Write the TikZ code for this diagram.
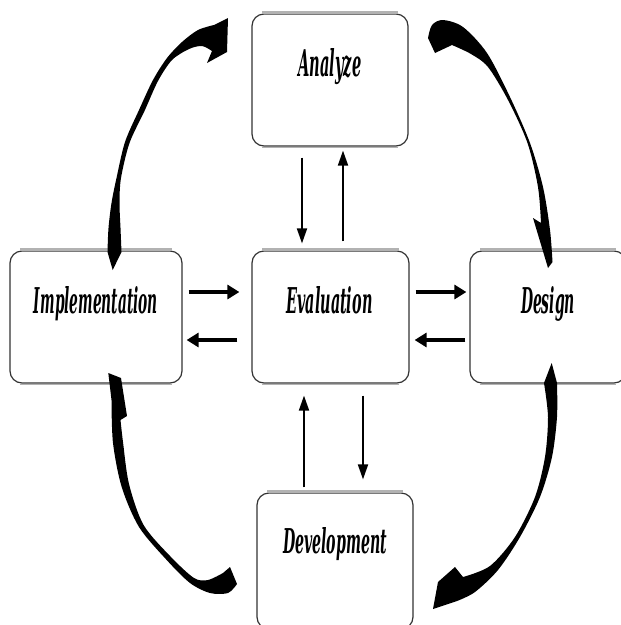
\documentclass[tikz,border=0pt]{standalone}
\usepackage{fontspec}
\newfontfamily\lblfont{DejaVu Serif}
\usetikzlibrary{arrows.meta}
\tikzset{
  box/.style={draw=black!80, line width=1.2pt, rounded corners=12pt, fill=white,
              minimum width=#1, minimum height=132pt, inner sep=0pt},
  lbl/.style={anchor=base, inner sep=0pt, font=\lblfont\bfseries\itshape},
  topband/.style={draw=gray!60, line width=2.8pt},
  botband/.style={draw=gray!60, line width=1.1pt},
  varr/.style={line width=1.8pt, -{Triangle[length=15pt,width=10pt]}},
  harr/.style={line width=3.6pt, -{Triangle[length=12pt,width=14pt]}},
  curv/.style={fill=black},
}
\begin{document}
\begin{tikzpicture}[x=1pt,y=-1pt]
\useasboundingbox (0,0) rectangle (621,625);
\fill[white] (0,0) rectangle (621,625);

% boxes
\node[box=156pt] (ana) at (330,80) {};
\node[box=157pt] (eva) at (330.5,317) {};
\node[box=172pt] (imp) at (96,317) {};
\node[box=156pt] (des) at (548,317) {};
\node[box=156pt, minimum height=136pt] (dev) at (335,561) {};

\foreach \b in {ana,eva,imp,des,dev}{
  \draw[topband] ([shift={(11,-1.1)}]\b.north west) -- ([shift={(-11,-1.1)}]\b.north east);
  \draw[botband] ([shift={(11,1)}]\b.south west) -- ([shift={(-11,1)}]\b.south east);
}

% labels
\node[lbl] (anaT) at (330,76) {\resizebox{63pt}{28pt}{Analyze}};
\node[lbl] (impT) at (96,313) {\resizebox{124pt}{27pt}{Implementation}};
\node[lbl] (evaT) at (329.5,313) {\resizebox{86pt}{27pt}{Evaluation}};
\node[lbl] (desT) at (548,313) {\resizebox{54pt}{27pt}{Design}};
\node[lbl] (devT) at (335,553) {\resizebox{104pt}{26pt}{Development}};

% straight arrows
\draw[varr] ([shift={(-28,11)}]ana.south) -- ([shift={(-28.5,-7)}]eva.north);
\draw[varr] ([shift={(12.5,-9)}]eva.north) -- ([shift={(13,4)}]ana.south);
\draw[varr] ([shift={(-31,-5)}]dev.north) -- ([shift={(-26.5,12)}]eva.south);
\draw[varr] ([shift={(32.5,12)}]eva.south) -- ([shift={(28,-13)}]dev.north);

\draw[harr] ([shift={(6,-25)}]imp.east) -- ([shift={(-12,-25)}]eva.west);
\draw[harr] ([shift={(-14,23)}]eva.west) -- ([shift={(4,23)}]imp.east);
\draw[harr] ([shift={(6,-25)}]eva.east) -- ([shift={(-3,-25)}]des.west);
\draw[harr] ([shift={(-4,23)}]des.west) -- ([shift={(5,23)}]eva.east);

% curved arrows
% Implementation -> Analyze
\fill[curv] (112.7,270) -- plot[smooth] coordinates {(107.5,252) (108.5,228) (111.5,203) (116.5,178) (125,142) (139,110) (153,80) (167,58) (182,42) (198,30) (214,25)}
  -- (228,18) -- (227,52) -- (207,63)
  -- plot[smooth] coordinates {(212,51) (202,46) (189,49) (172,60) (158,81) (144.5,111) (129.5,143) (121,178) (119.5,203) (120.5,228) (121.5,252)} -- cycle;
% Analyze -> Design
\fill[curv] (435,53) -- plot[smooth] coordinates {(428,38) (432,25) (443,20) (463,27) (487,53) (510,97) (530,143) (543,187) (550,230) (552.5,262)}
  -- (548,268) -- (533,218)
  -- plot[smooth] coordinates {(541,223) (538,187) (527.5,143) (508,100) (488,67) (471,54) (452,45)} -- cycle;
% Design -> Development
\fill[curv] (551.7,363) -- plot[smooth] coordinates {(557,383) (557,417) (552,457) (540,497) (520,537) (498,570) (475,592) (457,601)}
  -- (433,609) -- (438,582) -- (455,567)
  -- plot[smooth] coordinates {(463,577) (490,566) (515,537) (535,497) (545,457) (548,417) (544,383)} -- cycle;
% Development -> Implementation
\fill[curv] (108.3,373) -- plot[smooth] coordinates {(111.5,400) (113,443) (121.7,487) (139,527) (166.7,560) (190,583) (210,593) (228,593) (237,584)}
  -- (230,567)
  -- plot[smooth] coordinates {(223,573) (208,580) (194,578) (170.5,556.5) (143.6,525) (129,484) (123,442) (120.5,420)}
  -- (127,416) -- (121,378) -- cycle;
\end{tikzpicture}
\end{document}
